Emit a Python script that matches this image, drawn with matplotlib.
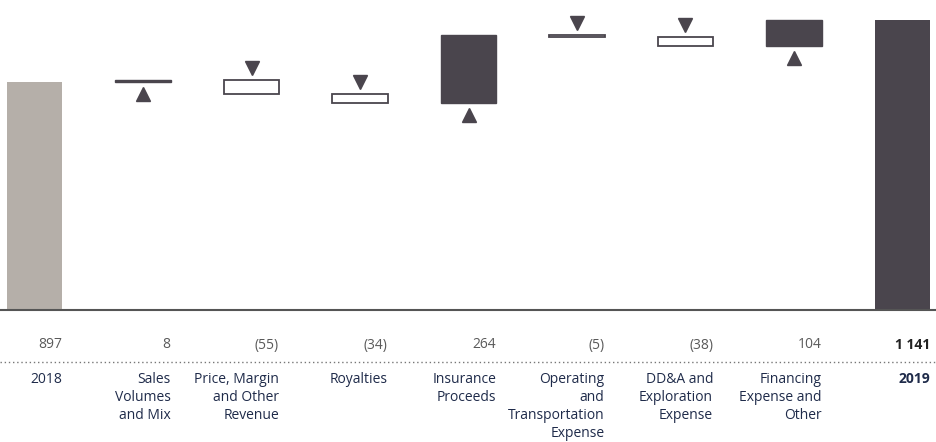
import matplotlib
matplotlib.use('Agg')
import numpy as np
from matplotlib import pyplot as plt
from matplotlib import transforms
from matplotlib.lines import Line2D

plt.rcParams['font.family'] = ['Open Sans', 'DejaVu Sans']

labels = ['2018', 'Sales\nVolumes\nand Mix', 'Price, Margin\nand Other\nRevenue', 'Royalties',
          'Insurance\nProceeds', 'Operating\nand\nTransportation\nExpense',
          'DD&A and\nExploration\nExpense', 'Financing\nExpense and\nOther', '2019']
start_value = 897
changes = [8, -55, -34, 264, -5, -38, 104]
end_value = 1141
value_texts = ['897', '8', '(55)', '(34)', '264', '(5)', '(38)', '104', '1 141']

GREY = '#b5afa9'
DARK = '#4a454d'
NUM_COLOR = '#5a5a5a'
LABEL_COLOR = '#1f2b4a'
W = 0.507

fig = plt.figure(figsize=(9.37, 4.42), dpi=100)
ax = fig.add_axes([0, (442 - 310) / 442, 1, 310 / 442])
ax.set_xlim(-0.318, 8.318)
ax.set_ylim(0, 1219.6)
for s in ['top', 'left', 'right']:
    ax.spines[s].set_visible(False)
ax.spines['bottom'].set_color('#555555')
ax.spines['bottom'].set_linewidth(1.5)
ax.set_xticks([])
ax.set_yticks([])

# triangles sit a fixed number of pixels off the bar ends
up_tr = transforms.offset_copy(ax.transData, fig=fig, x=0, y=-12, units='dots')
down_tr = transforms.offset_copy(ax.transData, fig=fig, x=0, y=12, units='dots')

ax.bar(0, start_value, width=W, color=GREY)
level = start_value
for i, c in enumerate(changes, start=1):
    lo = level if c > 0 else level + c
    if c > 0:
        ax.bar(i, c, bottom=lo, width=W, color=DARK, edgecolor=DARK, linewidth=1)
        ax.plot(i, lo, marker='^', color=DARK, markersize=9.5, transform=up_tr)
    else:
        ax.bar(i, -c, bottom=lo, width=W, color='white', edgecolor=DARK, linewidth=1.3)
        ax.plot(i, level, marker='v', color=DARK, markersize=9.5, transform=down_tr)
    level += c
ax.bar(8, end_value, width=W, color=DARK)

tr = transforms.blended_transform_factory(ax.transData, fig.transFigure)
for i, (v, lab) in enumerate(zip(value_texts, labels)):
    bold = i == 8
    ax.text(i + W / 2, 1 - 345 / 442, v, transform=tr, ha='right', va='center',
            fontsize=10, color='#222222' if bold else NUM_COLOR,
            fontweight='bold' if bold else 'normal')
    ax.text(i + W / 2, 1 - 372 / 442, lab, transform=tr, ha='right', va='top',
            fontsize=10, color=LABEL_COLOR, linespacing=1.27,
            fontweight='bold' if bold else 'normal')

fig.add_artist(Line2D([0, 1], [1 - 362 / 442, 1 - 362 / 442], transform=fig.transFigure,
                      color='#777777', linewidth=1, linestyle=(0, (1, 2))))

fig.savefig('out.png', dpi=100)
